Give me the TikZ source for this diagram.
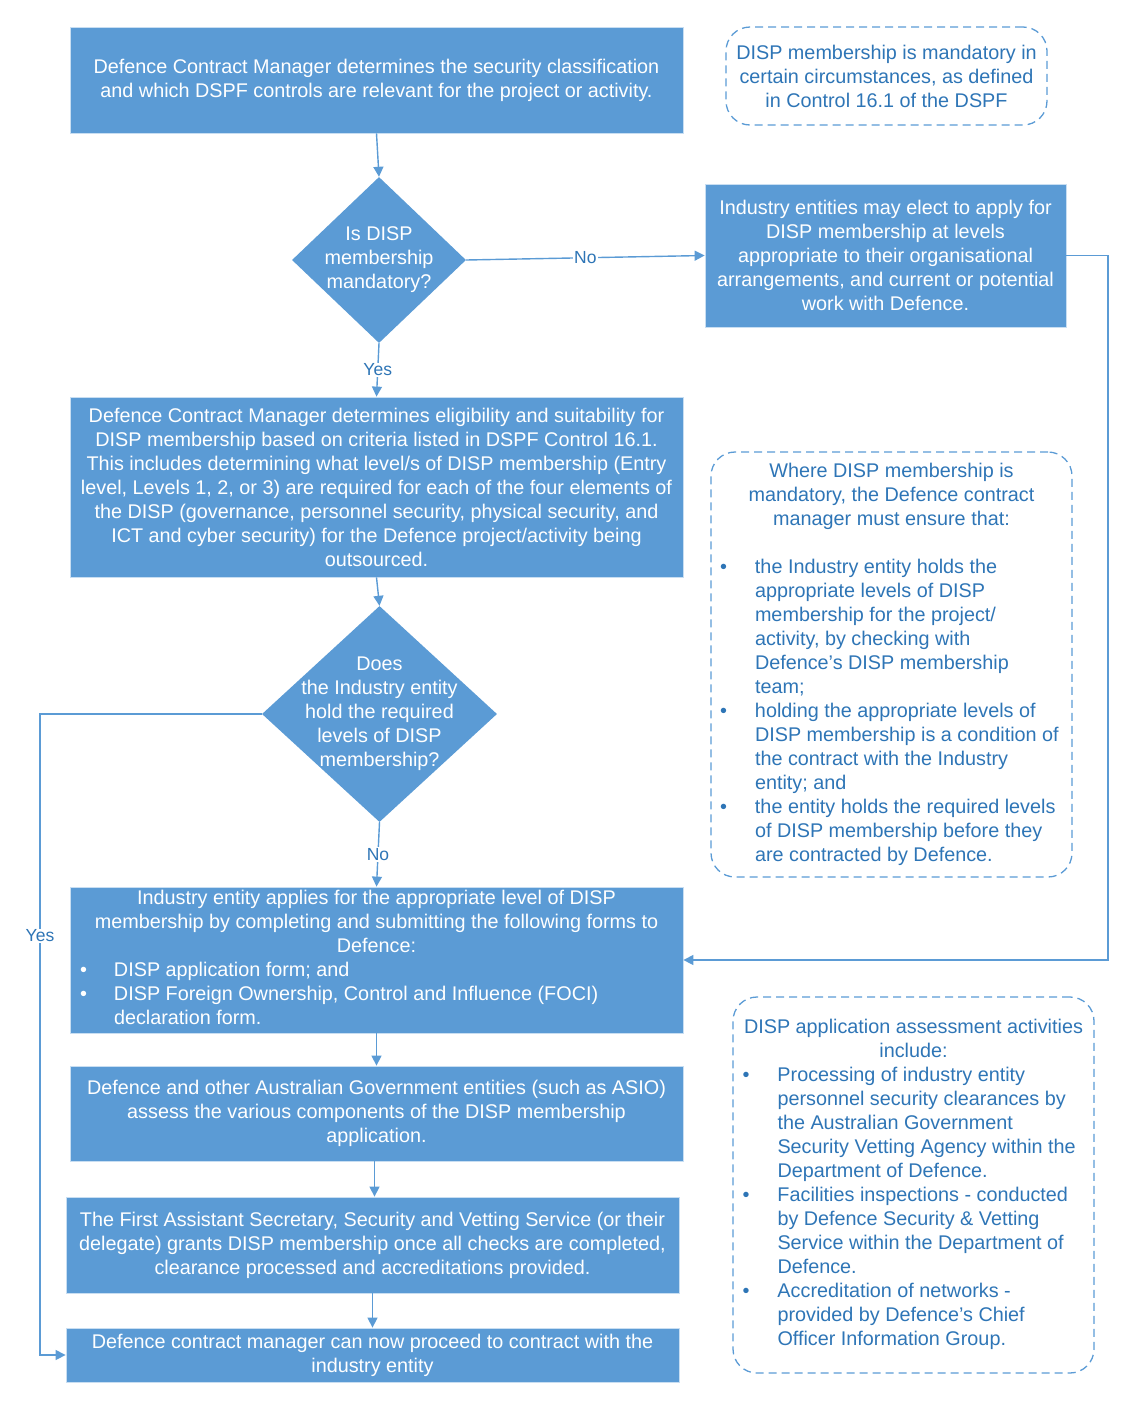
\documentclass[tikz,border=0pt]{standalone}
\usepackage{fontspec}
\setmainfont{Liberation Sans}
\usepackage{array}
\usetikzlibrary{shapes.geometric,arrows.meta}
\definecolor{fillblue}{RGB}{91,155,213}
\definecolor{lineblue}{RGB}{91,155,213}
\definecolor{textblue}{RGB}{46,117,182}
\definecolor{edgeblue}{RGB}{200,222,242}
\newcommand{\bodyfnt}{\fontsize{19.8}{24}\selectfont}
\newcommand{\lblfnt}{\fontsize{17.5}{21}\selectfont}
\newcommand{\mc}[1]{\multicolumn{2}{@{}c@{}}{#1}}
\begin{document}
\begin{tikzpicture}[x=1pt,y=-1pt,
  procbox/.style={rectangle, fill=fillblue, draw=edgeblue, line width=0.8pt, text=white, font=\bodyfnt, align=center, inner sep=0pt},
  decision/.style={diamond, fill=fillblue, draw=none, inner sep=0pt},
  dtext/.style={text=white, font=\bodyfnt, align=center, inner sep=0pt},
  notebox/.style={rectangle, rounded corners=24pt, draw=lineblue, dash pattern=on 8pt off 5pt, line width=1.3pt, text=textblue, font=\bodyfnt, align=center, inner sep=0pt},
  conn/.style={draw=lineblue, line width=1.4pt, -{Triangle[length=10pt,width=10pt]}},
  lbl/.style={fill=white, text=textblue, font=\lblfnt, inner sep=1pt}]
\useasboundingbox (0,0) rectangle (1135,1409);

% process boxes
\node[procbox, minimum width=613pt, minimum height=106pt] (b1) at (376.5,80)
 {Defence Contract Manager determines the security classification\\and which DSPF controls are relevant for the project or activity.};

\node[procbox, minimum width=361pt, minimum height=143pt] (ind) at (885.5,255.5)
 {Industry entities may elect to apply for\\DISP membership at levels\\appropriate to their organisational\\arrangements, and current or potential\\work with Defence.};

\node[procbox, minimum width=613pt, minimum height=180pt] (b2) at (376.5,487)
 {Defence Contract Manager determines eligibility and suitability for\\DISP membership based on criteria listed in DSPF Control 16.1.\\This includes determining what level/s of DISP membership (Entry\\level, Levels 1, 2, or 3) are required for each of the four elements of\\the DISP (governance, personnel security, physical security, and\\ICT and cyber security) for the Defence project/activity being\\outsourced.};

\node[procbox, minimum width=613pt, minimum height=146pt] (b3) at (376.5,960)
 {\begin{tabular}{@{}p{34pt}@{}l@{}}
 \mc{\makebox[593pt]{Industry entity applies for the appropriate level of DISP}}\\
 \mc{membership by completing and submitting the following forms to}\\
 \mc{Defence:}\\
 \textbullet & DISP application form; and\\
 \textbullet & DISP Foreign Ownership, Control and Influence (FOCI)\\
  & declaration form.
 \end{tabular}};

\node[procbox, minimum width=613pt, minimum height=95pt] (b4) at (376.5,1113.5)
 {Defence and other Australian Government entities (such as ASIO)\\assess the various components of the DISP membership\\application.};

\node[procbox, minimum width=613pt, minimum height=96pt] (b5) at (372.5,1245)
 {The First Assistant Secretary, Security and Vetting Service (or their\\delegate) grants DISP membership once all checks are completed,\\clearance processed and accreditations provided.};

\node[procbox, minimum width=613pt, minimum height=54pt] (b6) at (372.5,1355)
 {Defence contract manager can now proceed to contract with the\\industry entity};

% decisions
\node[decision, minimum width=174pt, minimum height=166pt] (d1) at (379,260) {};
\node[dtext] (d1t) at (d1.center) {Is DISP\\membership\\mandatory?};
\node[decision, minimum width=235pt, minimum height=216pt] (d2) at (379.5,714) {};
\node[dtext] (d2t) at (d2.center) {Does\\the Industry entity\\hold the required\\levels of DISP\\membership?};

% notes
\node[notebox, minimum width=321pt, minimum height=98pt] (n1) at (886.5,76)
 {DISP membership is mandatory in\\certain circumstances, as defined\\in Control 16.1 of the DSPF};

\node[notebox, minimum width=361pt, minimum height=425pt] (n2) at (891.5,664.5)
 {\begin{tabular}{@{}p{35pt}@{}l@{}}
 \mc{\makebox[343pt]{Where DISP membership is}}\\
 \mc{mandatory, the Defence contract}\\
 \mc{manager must ensure that:}\\
 \mc{}\\
 \textbullet & the Industry entity holds the\\
  & appropriate levels of DISP\\
  & membership for the project/\\
  & activity, by checking with\\
  & Defence’s DISP membership\\
  & team;\\
 \textbullet & holding the appropriate levels of\\
  & DISP membership is a condition of\\
  & the contract with the Industry\\
  & entity; and\\
 \textbullet & the entity holds the required levels\\
  & of DISP membership before they\\
  & are contracted by Defence.
 \end{tabular}};

\node[notebox, minimum width=361pt, minimum height=376pt] (n3) at (913.5,1185)
 {\begin{tabular}{@{}p{35pt}@{}l@{}}
 \mc{\makebox[342pt]{DISP application assessment activities}}\\
 \mc{include:}\\
 \textbullet & Processing of industry entity\\
  & personnel security clearances by\\
  & the Australian Government\\
  & Security Vetting Agency within the\\
  & Department of Defence.\\
 \textbullet & Facilities inspections - conducted\\
  & by Defence Security \& Vetting\\
  & Service within the Department of\\
  & Defence.\\
 \textbullet & Accreditation of networks -\\
  & provided by Defence’s Chief\\
  & Officer Information Group.
 \end{tabular}};

% connectors
\draw[conn] (b1.south) -- (d1.north);
\draw[conn] (d1.east) -- node[lbl] (no1) {No} (ind.west);
\draw[conn] (d1.south) -- node[lbl] (yes1) {Yes} (b2.north);
\draw[conn] (b2.south) -- (d2.north);
\draw[conn] (d2.south) -- node[lbl] (no2) {No} (b3.north);
\coordinate (ycorner) at (40,1355);
\draw[conn] (d2.west) -| (ycorner) -- (b6.west);
\node[lbl] (yes2) at (40,936) {Yes};
\coordinate (rcorner) at (1108,960);
\draw[conn] (ind.east) -| (rcorner) -- (b3.east);
\draw[conn] (b3.south) -- (b4.north);
\draw[conn] ([xshift=-2pt]b4.south) -- ([xshift=-2pt]b4.south |- b5.north);
\draw[conn] (b5.south) -- (b6.north);
\end{tikzpicture}
\end{document}
